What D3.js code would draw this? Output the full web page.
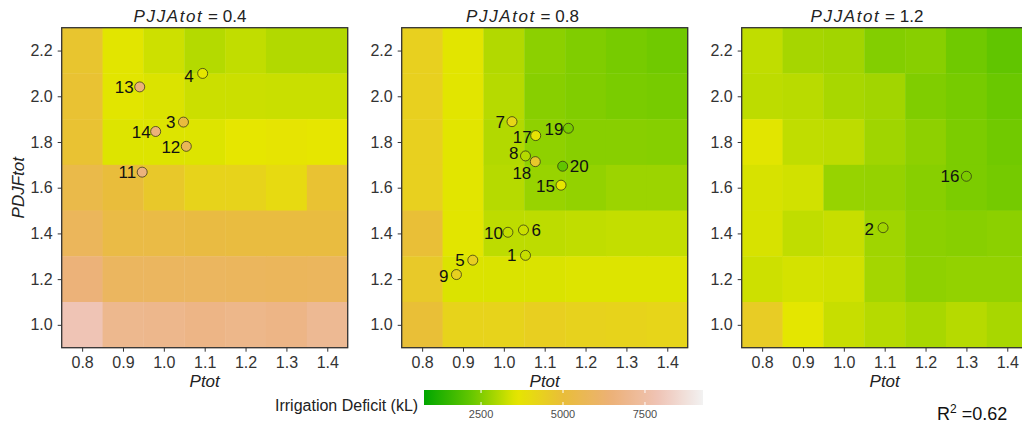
<!DOCTYPE html>
<html>
<head>
<meta charset="utf-8">
<script src="https://cdn.jsdelivr.net/npm/d3@7"></script>
<style>
  html, body { margin: 0; padding: 0; background: #fff; }
  svg { display: block; font-family: "Liberation Sans", Arial, Helvetica, sans-serif; }
</style>
</head>
<body>
<svg id="chart" width="1022" height="427"></svg>
<script>
// ---------------- DATA ----------------
const pjjaLevels = [0.4, 0.8, 1.2];
const ptotLevels = [0.8, 0.9, 1.0, 1.1, 1.2, 1.3, 1.4];
const pdjfRows = [2.2, 2.0, 1.8, 1.6, 1.4, 1.2, 1.0];   // row order of the grids below
const xTicks = [0.8, 0.9, 1.0, 1.1, 1.2, 1.3, 1.4];
const yTicks = [1.0, 1.2, 1.4, 1.6, 1.8, 2.0, 2.2];
const legendTicks = [2500, 5000, 7500];

// Irrigation deficit (kL), rows = pdjfRows, columns = ptotLevels
const deficitPJJA04 = [
  [4750, 3550, 3330, 3050, 3200, 3030, 3030],
  [4850, 3550, 3480, 3300, 3300, 3280, 3280],
  [4850, 3500, 3500, 3500, 3600, 3650, 3600],
  [5400, 5050, 4630, 4250, 4250, 4010, 4840],
  [5800, 5300, 5300, 5200, 5150, 5150, 5150],
  [6500, 5900, 5900, 5900, 5850, 5800, 5850],
  [7900, 7000, 6950, 6800, 6900, 6800, 7100]
];
const deficitPJJA08 = [
  [4360, 3550, 3030, 2620, 2490, 2400, 2320],
  [4360, 3550, 3080, 2580, 2500, 2430, 2400],
  [4360, 3550, 3030, 2660, 2580, 2580, 2560],
  [4360, 3550, 3080, 2750, 2700, 2800, 2800],
  [4950, 3550, 3150, 3150, 3180, 3220, 3220],
  [4600, 3480, 3470, 3470, 3500, 3500, 3500],
  [4950, 4250, 4250, 4380, 4300, 4250, 4200]
];
const deficitPJJA12 = [
  [3180, 2900, 2860, 2520, 2580, 2320, 2150],
  [3150, 3110, 2930, 2860, 2490, 2400, 2250],
  [3550, 3180, 3150, 2840, 2640, 2450, 2330],
  [3430, 3370, 2740, 2720, 2580, 2450, 2370],
  [3430, 3180, 3260, 2840, 2620, 2580, 2620],
  [3330, 3400, 3370, 2880, 2660, 2700, 2700],
  [4500, 3580, 3260, 3080, 2930, 3080, 2930]
];
const deficitGrids = [deficitPJJA04, deficitPJJA08, deficitPJJA12];

// Sites
const siteId      = [4, 13, 3, 14, 12, 11, 7, 17, 19, 8, 18, 20, 15, 10, 6, 1, 5, 9, 16, 2];
const sitePJJA    = [0.4, 0.4, 0.4, 0.4, 0.4, 0.4, 0.8, 0.8, 0.8, 0.8, 0.8, 0.8, 0.8, 0.8, 0.8, 0.8, 0.8, 0.8, 1.2, 1.2];
const sitePtot    = [1.095, 0.941, 1.048, 0.980, 1.055, 0.947, 1.020, 1.078, 1.158, 1.053, 1.077, 1.144, 1.140, 1.010, 1.048, 1.053, 0.924, 0.884, 1.300, 1.096];
const sitePDJF    = [2.100, 2.041, 1.887, 1.846, 1.781, 1.668, 1.889, 1.828, 1.860, 1.739, 1.714, 1.694, 1.611, 1.405, 1.415, 1.304, 1.283, 1.220, 1.650, 1.425];
const siteDeficit = [3600, 6500, 5100, 6500, 5700, 6600, 4150, 3700, 2400, 3050, 4650, 2150, 3600, 3220, 3300, 3250, 4400, 4350, 2450, 2850];

// Label placement (layout only): horizontal offset (negative = label to the left), vertical offset
const labelDx = [-9, -6, -8, -5, -6, -6, -7, -4, -5, -7, -4, 7, -6, -5, 8, -9, -8, -8, -7, -9];
const labelDy = [3, 0, 0, 1, 1, 0, 0, 1, 1, -3, 11, 0, 1, 1, 0, 0, 0, 1, 0, 1];

const r2Text = "0.62";

// ---------------- LAYOUT ----------------
const svg = d3.select("#chart");
const panelLeft = [61.7, 401.7, 741.7];
const panelW = 286, panelTop = 27.7, panelBottom = 347.7;
const titleCenters = [190, 522.5, 867];

const colorStops = ["#00A600", "#63C600", "#E6E600", "#E9BD3A", "#ECB176", "#EFC2B3", "#F2F2F2"];
const cMin = 760, cMax = 9270;
const color = d3.scaleLinear()
  .domain(colorStops.map((_, i) => cMin + i * (cMax - cMin) / (colorStops.length - 1)))
  .range(colorStops)
  .interpolate(d3.interpolateRgb)
  .clamp(true);

svg.append("defs").append("clipPath").attr("id", "clipAll")
  .append("rect").attr("x", 0).attr("y", 0).attr("width", 1022).attr("height", 427);

const root = svg.append("g").attr("clip-path", "url(#clipAll)");

pjjaLevels.forEach((pj, pi) => {
  const x0 = panelLeft[pi];
  const x = d3.scaleLinear().domain([0.75, 1.45]).range([x0, x0 + panelW]);
  const y = d3.scaleLinear().domain([0.9, 2.3]).range([panelBottom, panelTop]);
  const g = root.append("g");

  // tiles
  const grid = deficitGrids[pi];
  const cells = [];
  pdjfRows.forEach((pd, ri) => ptotLevels.forEach((pt, ci) => cells.push({pt, pd, v: grid[ri][ci]})));
  g.selectAll("rect.tile").data(cells).enter().append("rect")
    .attr("class", "tile")
    .attr("x", d => x(d.pt - 0.05))
    .attr("y", d => y(d.pd + 0.1))
    .attr("width", d => x(d.pt + 0.05) - x(d.pt - 0.05) + 0.4)
    .attr("height", d => y(d.pd - 0.1) - y(d.pd + 0.1) + 0.4)
    .attr("fill", d => color(d.v));

  // border
  g.append("rect")
    .attr("x", x0).attr("y", panelTop)
    .attr("width", panelW).attr("height", panelBottom - panelTop)
    .attr("fill", "none").attr("stroke", "#333").attr("stroke-width", 1.3);

  // axes
  const xAxis = d3.axisBottom(x).tickValues(xTicks).tickFormat(d3.format(".1f")).tickSize(4).tickPadding(4);
  const ax = g.append("g").attr("transform", `translate(0,${panelBottom})`).call(xAxis);
  ax.select(".domain").remove();
  ax.selectAll("line").attr("stroke", "#333");
  ax.selectAll("text").attr("font-size", 16).attr("fill", "#333")
    .attr("font-family", "Liberation Sans, Arial, sans-serif").attr("dy", "0.78em");

  const yAxis = d3.axisLeft(y).tickValues(yTicks).tickFormat(d3.format(".1f")).tickSize(4).tickPadding(5);
  const ay = g.append("g").attr("transform", `translate(${x0},0)`).call(yAxis);
  ay.select(".domain").remove();
  ay.selectAll("line").attr("stroke", "#333");
  ay.selectAll("text").attr("font-size", 16).attr("fill", "#333")
    .attr("font-family", "Liberation Sans, Arial, sans-serif");

  // x title
  g.append("text").attr("x", x0 + panelW / 2).attr("y", 387)
    .attr("text-anchor", "middle").attr("font-size", 17).attr("font-style", "italic")
    .attr("fill", "#222").text("Ptot");

  // panel title
  const t = g.append("text").attr("x", titleCenters[pi]).attr("y", 22)
    .attr("text-anchor", "middle").attr("font-size", 17).attr("fill", "#222");
  t.append("tspan").attr("font-style", "italic").attr("letter-spacing", "1.6px").text("PJJAtot");
  t.append("tspan").text(" = " + d3.format(".1f")(pj));

  // sites
  const idx = siteId.map((_, i) => i).filter(i => sitePJJA[i] === pj);
  g.selectAll("circle.site").data(idx).enter().append("circle")
    .attr("class", "site")
    .attr("cx", i => x(sitePtot[i])).attr("cy", i => y(sitePDJF[i]))
    .attr("r", 5)
    .attr("fill", i => color(siteDeficit[i]))
    .attr("stroke", "rgba(40,40,20,0.7)").attr("stroke-width", 1);

  g.selectAll("text.lab").data(idx).enter().append("text")
    .attr("class", "lab")
    .attr("x", i => x(sitePtot[i]) + labelDx[i])
    .attr("y", i => y(sitePDJF[i]) + labelDy[i] + 6)
    .attr("text-anchor", i => labelDx[i] < 0 ? "end" : "start")
    .attr("font-size", 17).attr("fill", "#111")
    .text(i => siteId[i]);
});

// y title
svg.append("text")
  .attr("transform", `translate(${24},${(panelTop + panelBottom) / 2}) rotate(-90)`)
  .attr("text-anchor", "middle").attr("font-size", 17).attr("font-style", "italic")
  .attr("fill", "#222").text("PDJFtot");

// ---------------- LEGEND ----------------
const lx0 = 424, lx1 = 703, ly0 = 390, lh = 15;
const lscale = d3.scaleLinear().domain([cMin, cMax]).range([lx0, lx1]);
const grad = svg.select("defs").append("linearGradient").attr("id", "lg")
  .attr("x1", "0%").attr("x2", "100%").attr("y1", "0%").attr("y2", "0%");
d3.range(0, 1.0001, 0.02).forEach(f => {
  grad.append("stop").attr("offset", (f * 100) + "%").attr("stop-color", color(cMin + f * (cMax - cMin)));
});
svg.append("rect").attr("x", lx0).attr("y", ly0).attr("width", lx1 - lx0).attr("height", lh)
  .attr("fill", "url(#lg)");
legendTicks.forEach(v => {
  const xx = lscale(v);
  svg.append("line").attr("x1", xx).attr("x2", xx).attr("y1", ly0).attr("y2", ly0 + 3)
    .attr("stroke", "#fff").attr("stroke-width", 1);
  svg.append("line").attr("x1", xx).attr("x2", xx).attr("y1", ly0 + lh - 3).attr("y2", ly0 + lh)
    .attr("stroke", "#fff").attr("stroke-width", 1);
});
svg.selectAll("text.ltick").data(legendTicks).enter().append("text")
  .attr("class", "ltick")
  .attr("x", d => lscale(d)).attr("y", 418)
  .attr("text-anchor", "middle").attr("font-size", 11).attr("fill", "#4d4d4d")
  .text(d => d);
svg.append("text").attr("x", 275).attr("y", 410.5)
  .attr("font-size", 16).attr("fill", "#222").text("Irrigation Deficit (kL)");

// R^2
const r2 = svg.append("text").attr("x", 937).attr("y", 420).attr("font-size", 18).attr("fill", "#111");
r2.append("tspan").text("R");
r2.append("tspan").attr("font-size", 12).attr("dy", -7).text("2");
r2.append("tspan").attr("dy", 7).text(" =" + r2Text);
</script>
</body>
</html>
